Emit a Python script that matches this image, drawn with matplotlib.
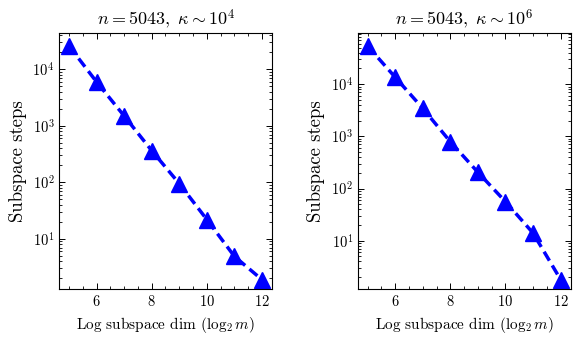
import matplotlib
matplotlib.use("Agg")
import matplotlib.pyplot as plt
from matplotlib.ticker import AutoMinorLocator

plt.rcParams.update({
    "font.family": "serif",
    "font.serif": ["cmr10"],
    "mathtext.fontset": "cm",
    "axes.formatter.use_mathtext": True,
    "axes.unicode_minus": False,
    "xtick.direction": "in",
    "ytick.direction": "in",
    "xtick.top": True,
    "ytick.right": True,
    "xtick.major.size": 4,
    "ytick.major.size": 4,
    "xtick.minor.size": 2,
    "ytick.minor.size": 2,
    "xtick.major.width": 0.7,
    "ytick.major.width": 0.7,
    "xtick.minor.width": 0.6,
    "ytick.minor.width": 0.6,
    "axes.linewidth": 0.8,
})

log_dims = [5, 6, 7, 8, 9, 10, 11, 12]
steps_k4 = [26000, 6000, 1500, 365, 95, 22, 4.9, 1.9]
steps_k6 = [54000, 13600, 3450, 790, 205, 56, 14, 1.8]

panels = [
    (r"$n = 5043,\ \kappa \sim 10^4$", steps_k4, (1.29, 44000)),
    (r"$n = 5043,\ \kappa \sim 10^6$", steps_k6, (1.18, 96000)),
]

fig = plt.figure(figsize=(5.81, 3.39), dpi=100)
lefts = [0.102, 0.616]
for left, (title, steps, ylim) in zip(lefts, panels):
    ax = fig.add_axes([left, 0.147, 0.367, 0.756])
    ax.plot(log_dims, steps, linestyle="--", color="#0000ff", linewidth=2.5,
            marker="^", markersize=12, dashes=(3, 1.6))
    ax.set_yscale("log")
    ax.set_xlim(4.65, 12.38)
    ax.set_ylim(*ylim)
    ax.set_xticks([6, 8, 10, 12])
    ax.xaxis.set_minor_locator(AutoMinorLocator(4))
    ax.set_title(title, fontsize=13)
    ax.set_xlabel(r"Log subspace dim ($\log_2 m$)", fontsize=11)
    ax.set_ylabel("Subspace steps", fontsize=13.5)
    ax.tick_params(labelsize=10.5)

fig.savefig("out.png", dpi=100)
